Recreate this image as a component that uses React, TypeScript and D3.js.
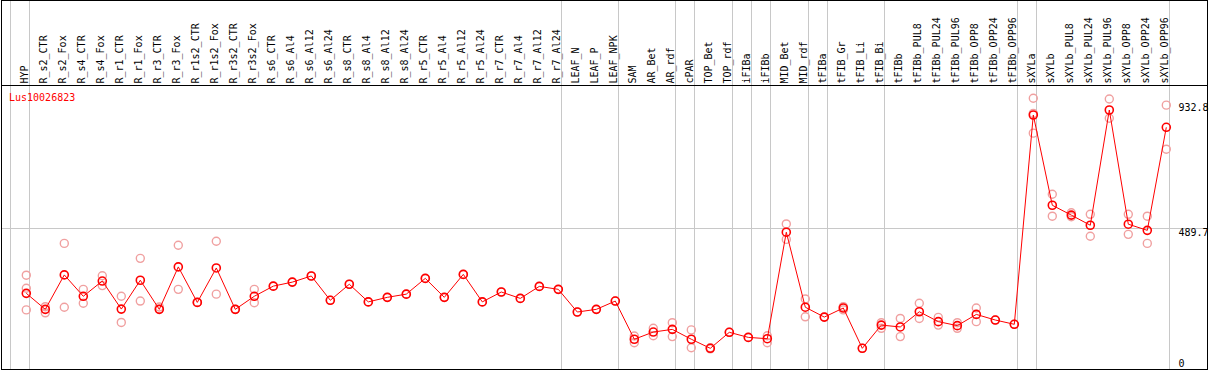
import React from "react";
import * as d3 from "d3";

const categories = [
  "HYP", "R_s2_CTR", "R_s2_Fox", "R_s4_CTR", "R_s4_Fox", "R_r1_CTR", "R_r1_Fox", "R_r3_CTR", "R_r3_Fox",
  "R_r1s2_CTR", "R_r1s2_Fox", "R_r3s2_CTR", "R_r3s2_Fox", "R_s6_CTR", "R_s6_Al4", "R_s6_Al12", "R_s6_Al24",
  "R_s8_CTR", "R_s8_Al4", "R_s8_Al12", "R_s8_Al24", "R_r5_CTR", "R_r5_Al4", "R_r5_Al12", "R_r5_Al24",
  "R_r7_CTR", "R_r7_Al4", "R_r7_Al12", "R_r7_Al24", "LEAF_N", "LEAF_P", "LEAF_NPK", "SAM", "AR_Bet", "AR_rdf",
  "cPAR", "TOP_Bet", "TOP_rdf", "iFIBa", "iFIBb", "MID_Bet", "MID_rdf", "tFIBa", "tFIB_Gr", "tFIB_Li", "tFIB_Bi",
  "tFIBb", "tFIBb_PUL8", "tFIBb_PUL24", "tFIBb_PUL96", "tFIBb_OPP8", "tFIBb_OPP24", "tFIBb_OPP96",
  "sXYLa", "sXYLb", "sXYLb_PUL8", "sXYLb_PUL24", "sXYLb_PUL96", "sXYLb_OPP8", "sXYLb_OPP24", "sXYLb_OPP96",
];

const means = [
  246, 186, 315, 235, 292, 187, 295, 186, 345, 212, 341, 186, 235, 273, 288, 311, 220,
  280, 214, 231, 243, 302, 231, 317, 214, 251, 227, 272, 261, 176, 186, 217, 74, 101, 111,
  74, 40, 100, 81, 76, 475, 194, 157, 191, 40, 127, 120, 177, 140, 125, 167, 146, 130,
  914, 576, 539, 501, 932.8, 505, 482, 868,
];

const replicates = [
  [314, 265, 184], [196, 173], [433, 194], [261, 209], [312, 275], [235, 137], [377, 217], [195, 187], [426, 261],
  [212, 212], [441, 243], [186, 186], [261, 211], [273], [288], [311], [220],
  [280], [214], [231], [243], [302], [231], [317], [214],
  [251], [227], [272], [261], [176], [186], [217], [86, 61], [115, 87], [136, 84],
  [109, 42], [42, 38], [100], [81], [87, 61], [506, 448], [225, 158], [157], [196, 184], [40], [136, 115],
  [152, 84], [209, 152], [156, 127], [136, 115], [191, 140], [146], [130],
  [977, 920, 846], [617, 535], [548, 533], [542, 460], [974, 902], [542, 467], [535, 433], [951, 786],
];

const groupStarts = [
  "R_s2_CTR", "LEAF_N", "SAM", "cPAR", "TOP_Bet", "iFIBa", "iFIBb", "MID_Bet", "tFIBa", "tFIB_Gr", "tFIBb", "sXYLa", "sXYLb",
];

const geneLabel = "Lus10026823";
const yTickLabels = [
  { value: 932.8, text: "932.8" },
  { value: 489.7, text: "489.7" },
  { value: 0, text: "0" },
];

const W = 1209;
const H = 370;
const FONT = "'DejaVu Sans Mono', 'Liberation Mono', monospace";

export default function App() {
  const x = d3.scaleBand<string>().domain(categories).range([11, 11 + 19 * categories.length]).padding(0);
  const bw = x.bandwidth();
  const px = (c: string) => (x(c) as number) + 15.3;
  const y = d3.scaleLinear().domain([0, 932.8]).range([359, 110]);

  const line = d3
    .line<number>()
    .x((_, i) => px(categories[i]))
    .y((d) => y(d));

  const gridY = Math.round(y(489.7)) + 0.5;
  const rightEdge = (x(categories[categories.length - 1]) as number) + bw;

  return (
    <div style={{ position: "absolute", left: 0, top: 0 }}>
      <svg width={W} height={H} style={{ display: "block", background: "#fff" }}>
        <rect x={0} y={0} width={W} height={H} fill="#fff" />
        {/* grid */}
        <line x1={1} x2={1207} y1={gridY} y2={gridY} stroke="#c8c8c8" strokeWidth={1} />
        <line x1={10.5} x2={10.5} y1={0} y2={369} stroke="#c8c8c8" strokeWidth={1} />
        {groupStarts.map((g) => (
          <line key={g} x1={(x(g) as number) - 0.5} x2={(x(g) as number) - 0.5} y1={0} y2={369} stroke="#c8c8c8" strokeWidth={1} />
        ))}
        <line x1={rightEdge - 0.5} x2={rightEdge - 0.5} y1={0} y2={369} stroke="#c8c8c8" strokeWidth={1} />
        {/* frame */}
        <rect x={1.5} y={0.5} width={1206} height={369} fill="none" stroke="#000" strokeWidth={1} />
        <line x1={1} x2={1208} y1={85.5} y2={85.5} stroke="#000" strokeWidth={1} />
        {/* category labels */}
        {categories.map((c) => (
          <text
            key={c}
            transform={`translate(${px(c) + 1.8},83.5) rotate(-90)`}
            fontFamily={FONT}
            fontSize={10}
            fill="#000"
          >
            {c}
          </text>
        ))}
        {/* gene label */}
        <text x={9} y={101} fontFamily={FONT} fontSize={10} fill="#ff0000">
          {geneLabel}
        </text>
        {/* y labels */}
        {yTickLabels.map((t) => {
          const yy = y(t.value);
          const base = t.value === 932.8 ? yy + 0.7 : yy + 7.5;
          return (
            <text key={t.text} x={1178.5} y={base} fontFamily={FONT} fontSize={10} fill="#000">
              {t.text}
            </text>
          );
        })}
        {/* replicates */}
        {replicates.map((reps, i) =>
          reps.map((v, j) => (
            <circle key={`r${i}-${j}`} cx={px(categories[i])} cy={y(v)} r={4} fill="none" stroke="#f0a0a0" strokeWidth={1.4} />
          ))
        )}
        {/* mean line */}
        <path d={line(means) as string} fill="none" stroke="#ff0000" strokeWidth={1} />
        {means.map((v, i) => (
          <circle key={`m${i}`} cx={px(categories[i])} cy={y(v)} r={4} fill="none" stroke="#ff0000" strokeWidth={1.6} />
        ))}
      </svg>
    </div>
  );
}
